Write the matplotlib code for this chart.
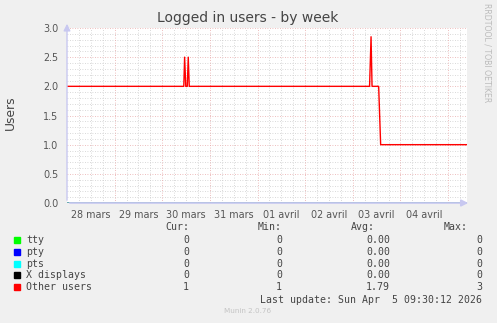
import numpy as np
import pandas as pd
import matplotlib
matplotlib.use('Agg')
import matplotlib.pyplot as plt
import matplotlib.dates as mdates

# serie "Other users" (les autres sont a zero)
temps = ['2026-03-28 00:00', '2026-03-30 10:50', '2026-03-30 11:15', '2026-03-30 11:50',
         '2026-03-30 12:35', '2026-03-30 13:05', '2026-03-30 13:35', '2026-04-03 08:25',
         '2026-04-03 09:10', '2026-04-03 09:40', '2026-04-03 13:00', '2026-04-03 14:00',
         '2026-04-05 09:30']
autres = [2.0, 2.0, 2.5, 2.0, 2.0, 2.5, 2.0, 2.0, 2.85, 2.0, 2.0, 1.0, 1.0]

series = ['tty', 'pty', 'pts', 'X displays', 'Other users']
couleurs = ['#00FF00', '#0000FF', '#00FFFF', '#000000', '#FF0000']
cur = ['0', '0', '0', '0', '1']
mins = ['0', '0', '0', '0', '1']
avgs = ['0.00', '0.00', '0.00', '0.00', '1.79']
maxs = ['0', '0', '0', '0', '3']

jours = ['28 mars', '29 mars', '30 mars', '31 mars', '01 avril', '02 avril', '03 avril', '04 avril']
debut = pd.Timestamp('2026-03-28 00:00')
fin = pd.Timestamp('2026-04-05 09:30')

W, H = 497, 323
fig = plt.figure(figsize=(W / 100, H / 100), dpi=100, facecolor='#f0f0f0')
ax = fig.add_axes([67 / W, 1 - 203 / H, 400 / W, 175 / H])
ax.set_facecolor('white')

t = pd.to_datetime(temps)
for nom, c in zip(series[:4], couleurs[:4]):
    ax.plot([debut, fin], [0, 0], color=c, lw=1.0, zorder=1)
ax.plot(t, autres, color='#FF0000', lw=1.0, zorder=4)

ax.set_xlim(debut, fin)
ax.set_ylim(0, 3.0)

# grille
for y in np.arange(0.1, 3.01, 0.1):
    if abs(y * 2 - round(y * 2)) < 1e-6:
        ax.axhline(y, color='#e8a8a8', lw=0.6, ls=(0, (1, 2)), zorder=0)
    else:
        ax.axhline(y, color='#cccccc', lw=0.6, ls=(0, (1, 2)), zorder=0)
for d in pd.date_range(debut, fin, freq='6h')[1:]:
    if d.hour == 0:
        ax.axvline(d, color='#e8a8a8', lw=0.6, ls=(0, (1, 2)), zorder=0)
    else:
        ax.axvline(d, color='#cccccc', lw=0.6, ls=(0, (1, 2)), zorder=0)

midis = pd.date_range(debut + pd.Timedelta(hours=12), periods=len(jours), freq='D')
ax.set_xticks(midis)
ax.set_xticklabels(jours)
ax.set_yticks(np.arange(0, 3.01, 0.5))
ax.set_yticklabels(['%.1f' % v for v in np.arange(0, 3.01, 0.5)])
ax.tick_params(length=0, labelsize=6.9, colors='#555555', pad=5)
ax.tick_params(axis='y', pad=6)
for s in ax.spines.values():
    s.set_visible(False)

# axes avec fleches
axe_c = '#c8c8f0'
ax.annotate('', xy=(0, 1.04), xytext=(0, 0), xycoords='axes fraction',
            arrowprops=dict(arrowstyle='-|>,head_length=0.4,head_width=0.2', color=axe_c, lw=1.0),
            zorder=5)
ax.annotate('', xy=(1.01, 0), xytext=(0, 0), xycoords='axes fraction',
            arrowprops=dict(arrowstyle='-|>,head_length=0.4,head_width=0.2', color=axe_c, lw=1.2),
            zorder=5)

def px(x, y):
    return x / W, 1 - y / H

fig.text(*px(248, 18), 'Logged in users - by week', ha='center', va='center',
         fontsize=10, color='#444444')
fig.text(*px(10, 113), 'Users', ha='center', va='center', rotation=90,
         fontsize=8.8, color='#444444')
fig.text(*px(487, 53), 'RRDTOOL / TOBI OETIKER', ha='center', va='center',
         rotation=270, fontsize=5.6, color='#bbbbbb')

mono = dict(family='DejaVu Sans Mono', fontsize=7.1, color='#444444', va='center')
fig.text(*px(189, 227), 'Cur:', ha='right', **mono)
fig.text(*px(282, 227), 'Min:', ha='right', **mono)
fig.text(*px(375, 227), 'Avg:', ha='right', **mono)
fig.text(*px(468, 227), 'Max:', ha='right', **mono)
for i, nom in enumerate(series):
    y = 240 + i * 11.8
    fig.patches.append(plt.Rectangle(px(14, y + 3), 6 / W, 6 / H, color=couleurs[i],
                                     transform=fig.transFigure, figure=fig))
    fig.text(*px(26, y), nom, ha='left', **mono)
    fig.text(*px(189, y), cur[i], ha='right', **mono)
    fig.text(*px(282, y), mins[i], ha='right', **mono)
    fig.text(*px(390, y), avgs[i], ha='right', **mono)
    fig.text(*px(482, y), maxs[i], ha='right', **mono)
fig.text(*px(482, 300), 'Last update: Sun Apr  5 09:30:12 2026', ha='right', **mono)
fig.text(*px(248, 311), 'Munin 2.0.76', ha='center', va='center', fontsize=5.2, color='#c4c4c4')

fig.savefig('out.png', dpi=100, facecolor=fig.get_facecolor())
